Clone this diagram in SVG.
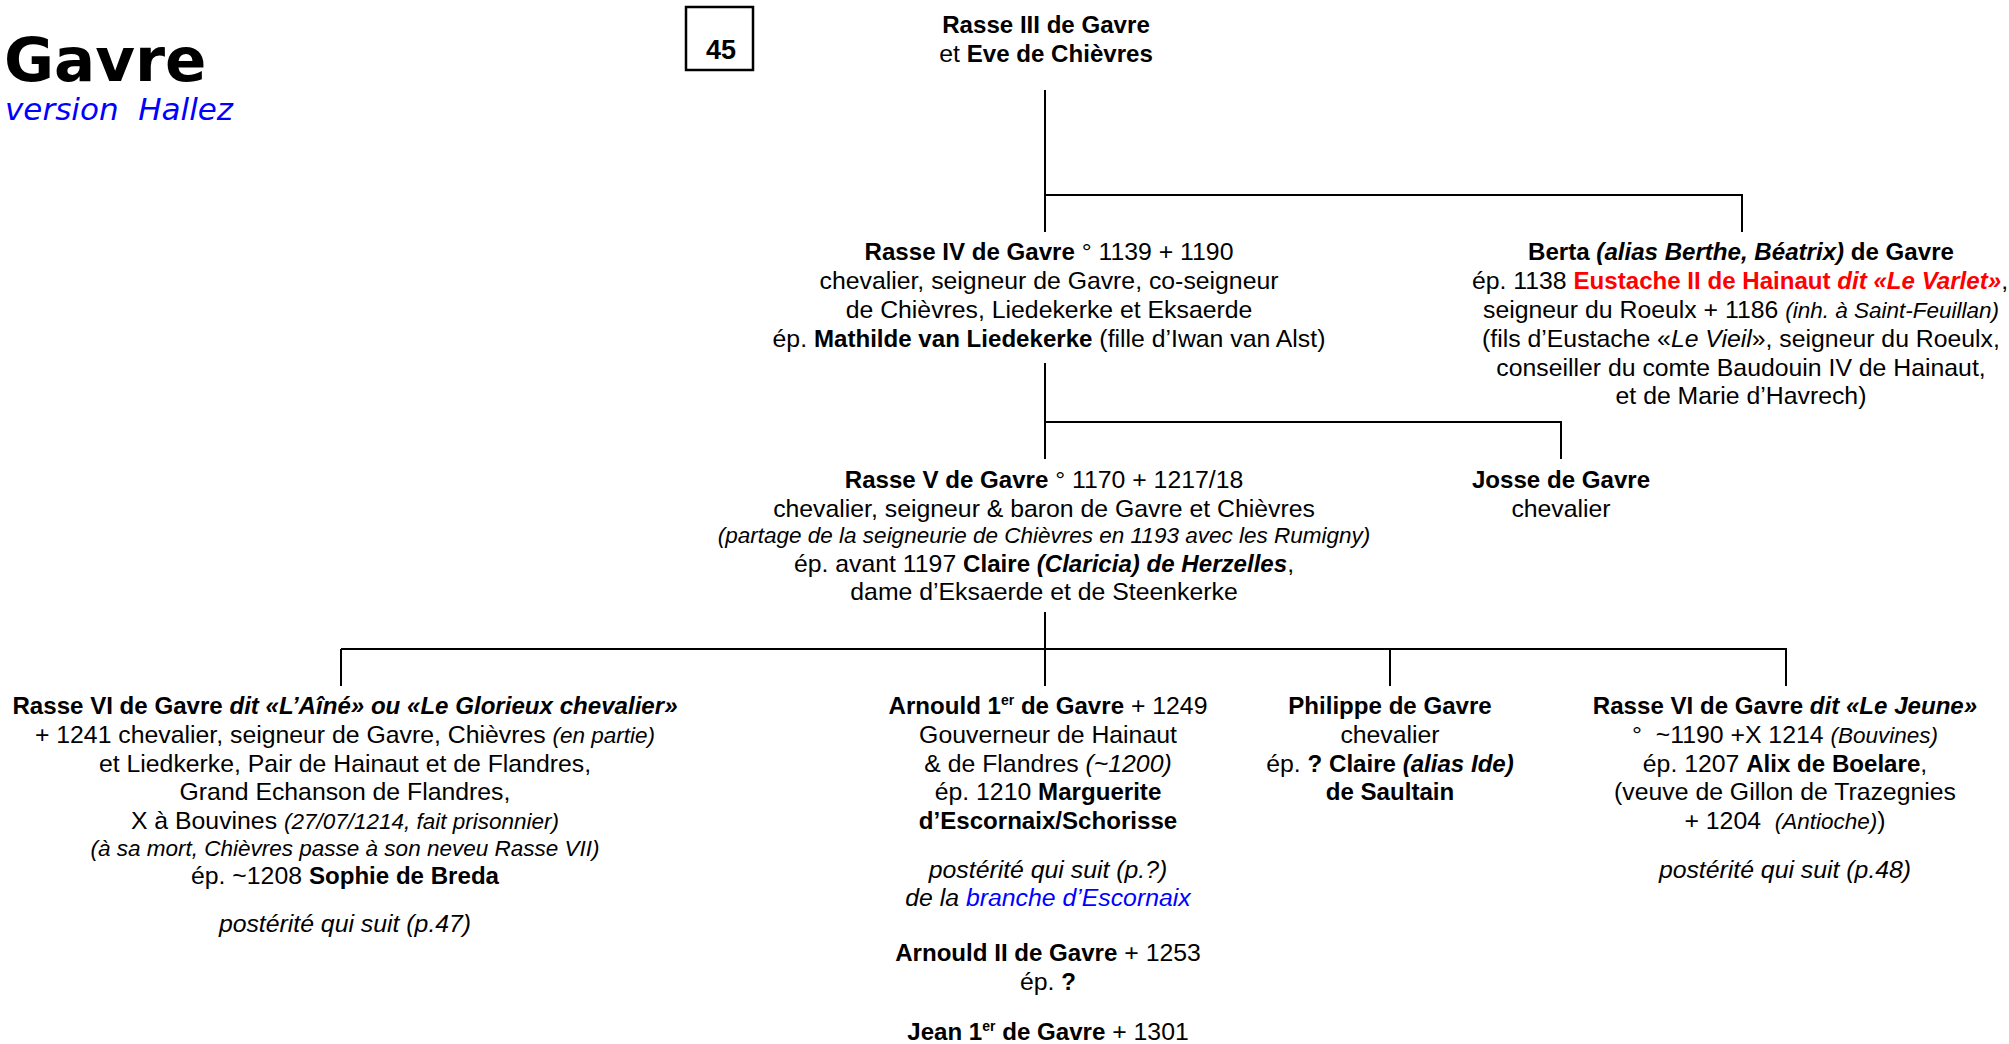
<svg xmlns="http://www.w3.org/2000/svg" width="2009" height="1044" viewBox="0 0 2009 1044">
<style>
.t{font-family:"Liberation Sans",Arial,sans-serif;font-size:24.8px;text-anchor:middle;fill:#000}
.b{font-weight:bold;font-size:24.1px}
.i{font-style:italic}
.s{font-size:22.5px}
.sup{font-size:14px;font-weight:bold}
.red{fill:#ff0000}
.blue{fill:#0000ff}
.ln{stroke:#000;stroke-width:2;fill:none}
</style>
<rect width="2009" height="1044" fill="#fff"/>
<g id="title">
<text x="4" y="81" font-family="DejaVu Sans,sans-serif" font-weight="bold" font-size="61">Gavre</text>
<text x="5" y="120" font-family="DejaVu Sans,sans-serif" font-style="italic" font-size="31" fill="#0000ff">version&#160; Hallez</text>
</g>
<g id="page">
<rect x="686" y="7" width="67" height="63" fill="none" stroke="#000" stroke-width="2.5"/>
<text x="721" y="59" font-family="Liberation Sans,Arial,sans-serif" font-weight="bold" font-size="27" text-anchor="middle">45</text>
</g>
<g id="connectors">
<path class="ln" d="M1045,90V232M1045,195H1742V232"/>
<path class="ln" d="M1045,363V459M1045,422H1561V459"/>
<path class="ln" d="M1045,612V686M341,649H1787M341,649V686M1390,649V686M1786,649V686"/>
</g>
<g id="rasse3">
<text class="t b" x="1046" y="33">Rasse III de Gavre</text>
<text class="t" x="1046" y="62">et <tspan class="b">Eve de Chièvres</tspan></text>
</g>
<g id="rasse4">
<text class="t" x="1049" y="260"><tspan class="b">Rasse IV de Gavre</tspan> ° 1139 + 1190</text>
<text class="t" x="1049" y="289">chevalier, seigneur de Gavre, co-seigneur</text>
<text class="t" x="1049" y="318">de Chièvres, Liedekerke et Eksaerde</text>
<text class="t" x="1049" y="347">ép. <tspan class="b">Mathilde van Liedekerke</tspan> (fille d’Iwan van Alst)</text>
</g>
<g id="berta">
<text class="t" x="1741" y="260"><tspan class="b">Berta </tspan><tspan class="b i">(alias Berthe, Béatrix)</tspan><tspan class="b"> de Gavre</tspan></text>
<text class="t" x="1740" y="289">ép. 1138 <tspan class="b red">Eustache II de Hainaut </tspan><tspan class="b i red">dit «Le Varlet»</tspan>,</text>
<text class="t" x="1741" y="318">seigneur du Roeulx + 1186 <tspan class="i s">(inh. à Saint-Feuillan)</tspan></text>
<text class="t" x="1741" y="347">(fils d’Eustache «<tspan class="i">Le Vieil</tspan>», seigneur du Roeulx,</text>
<text class="t" x="1741" y="376">conseiller du comte Baudouin IV de Hainaut,</text>
<text class="t" x="1741" y="404">et de Marie d’Havrech)</text>
</g>
<g id="rasse5">
<text class="t" x="1044" y="488"><tspan class="b">Rasse V de Gavre</tspan> ° 1170 + 1217/18</text>
<text class="t" x="1044" y="517">chevalier, seigneur &amp; baron de Gavre et Chièvres</text>
<text class="t i s" x="1044" y="543">(partage de la seigneurie de Chièvres en 1193 avec les Rumigny)</text>
<text class="t" x="1044" y="572">ép. avant 1197 <tspan class="b">Claire </tspan><tspan class="b i">(Claricia) de Herzelles</tspan>,</text>
<text class="t" x="1044" y="600">dame d’Eksaerde et de Steenkerke</text>
</g>
<g id="josse">
<text class="t b" x="1561" y="488">Josse de Gavre</text>
<text class="t" x="1561" y="517">chevalier</text>
</g>
<g id="rasse6-aine">
<text class="t" x="345" y="714"><tspan class="b">Rasse VI de Gavre </tspan><tspan class="b i">dit «L’Aîné» ou «Le Glorieux chevalier»</tspan></text>
<text class="t" x="345" y="743">+ 1241 chevalier, seigneur de Gavre, Chièvres <tspan class="i s">(en partie)</tspan></text>
<text class="t" x="345" y="772">et Liedkerke, Pair de Hainaut et de Flandres,</text>
<text class="t" x="345" y="800">Grand Echanson de Flandres,</text>
<text class="t" x="345" y="829">X à Bouvines <tspan class="i s">(27/07/1214, fait prisonnier)</tspan></text>
<text class="t i s" x="345" y="856">(à sa mort, Chièvres passe à son neveu Rasse VII)</text>
<text class="t" x="345" y="884">ép. ~1208 <tspan class="b">Sophie de Breda</tspan></text>
<text class="t i" x="345" y="932">postérité qui suit (p.47)</text>
</g>
<g id="arnould">
<text class="t" x="1048" y="714"><tspan class="b">Arnould 1</tspan><tspan class="sup" dy="-9">er</tspan><tspan class="b" dy="9"> de Gavre</tspan> + 1249</text>
<text class="t" x="1048" y="743">Gouverneur de Hainaut</text>
<text class="t" x="1048" y="772">&amp; de Flandres <tspan class="i">(~1200)</tspan></text>
<text class="t" x="1048" y="800">ép. 1210 <tspan class="b">Marguerite</tspan></text>
<text class="t b" x="1048" y="829">d’Escornaix/Schorisse</text>
<text class="t i" x="1048" y="878">postérité qui suit (p.?)</text>
<text class="t i" x="1048" y="906">de la <tspan class="blue">branche d’Escornaix</tspan></text>
<text class="t" x="1048" y="961"><tspan class="b">Arnould II de Gavre</tspan> + 1253</text>
<text class="t" x="1048" y="990">ép. <tspan class="b">?</tspan></text>
<text class="t" x="1048" y="1040"><tspan class="b">Jean 1</tspan><tspan class="sup" dy="-9">er</tspan><tspan class="b" dy="9"> de Gavre</tspan> + 1301</text>
</g>
<g id="philippe">
<text class="t b" x="1390" y="714">Philippe de Gavre</text>
<text class="t" x="1390" y="743">chevalier</text>
<text class="t" x="1390" y="772">ép. <tspan class="b">? Claire </tspan><tspan class="b i">(alias Ide)</tspan></text>
<text class="t b" x="1390" y="800">de Saultain</text>
</g>
<g id="rasse6-jeune">
<text class="t" x="1785" y="714"><tspan class="b">Rasse VI de Gavre </tspan><tspan class="b i">dit «Le Jeune»</tspan></text>
<text class="t" x="1785" y="743">°&#160; ~1190 +X 1214 <tspan class="i s">(Bouvines)</tspan></text>
<text class="t" x="1785" y="772">ép. 1207 <tspan class="b">Alix de Boelare</tspan>,</text>
<text class="t" x="1785" y="800">(veuve de Gillon de Trazegnies</text>
<text class="t" x="1785" y="829">+ 1204&#160; <tspan class="i s">(Antioche)</tspan>)</text>
<text class="t i" x="1785" y="878">postérité qui suit (p.48)</text>
</g>
</svg>
